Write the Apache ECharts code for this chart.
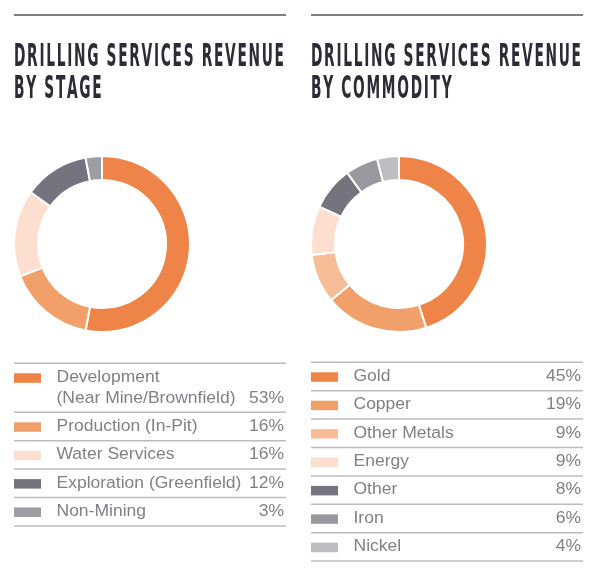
<!DOCTYPE html>
<html>
<head>
<meta charset="utf-8">
<script src="https://cdn.jsdelivr.net/npm/echarts@6/dist/echarts.min.js"></script>
<style>
  html, body { margin: 0; padding: 0; background: #fff; }
  #chart { width: 600px; height: 586px; }
</style>
</head>
<body>
<div id="chart"></div>
<script>
// data
const stageTitle = ['DRILLING SERVICES REVENUE', 'BY STAGE'];
const stageLabels = ['Development\n(Near Mine/Brownfield)', 'Production (In-Pit)', 'Water Services', 'Exploration (Greenfield)', 'Non-Mining'];
const stageValues = [53, 16, 16, 12, 3];
const stageColors = ['#ee8447', '#f2a06a', '#fddfcf', '#74747e', '#9d9da4'];

const commodityTitle = ['DRILLING SERVICES REVENUE', 'BY COMMODITY'];
const commodityLabels = ['Gold', 'Copper', 'Other Metals', 'Energy', 'Other', 'Iron', 'Nickel'];
const commodityValues = [45, 19, 9, 9, 8, 6, 4];
const commodityColors = ['#ee8447', '#f2a06a', '#f6bd97', '#fddfcf', '#74747e', '#98989f', '#bdbdc2'];

const titleFont = 'bold 31.5px "DejaVu Sans Condensed", "DejaVu Sans"';
const bodyFont = '16.3px "Liberation Sans", Arial, sans-serif';
const bodyScale = 1.075;
const textGray = '#808087';
const ruleGray = '#bcbcc0';
const titleGap = 1.7;

// measure title glyphs so the first line fills the panel width
const mctx = document.createElement('canvas').getContext('2d');
mctx.font = titleFont;
function charW(c) { return mctx.measureText(c).width; }

function titleElements(lines, x0, target) {
    const first = lines[0].split('');
    const natural = first.reduce((s, c) => s + charW(c), 0);
    const sx = (target - titleGap * (first.length - 1)) / natural;
    const els = [];
    lines.forEach((t, i) => {
        let x = x0;
        t.split('').forEach(c => {
            if (c !== ' ') {
                els.push({
                    type: 'text', x: x, y: 57.5 + i * 32.4, scaleX: sx,
                    style: { text: c, font: titleFont, fill: '#2c2c36', align: 'left', verticalAlign: 'middle' }
                });
            }
            x += charW(c) * sx + titleGap;
        });
    });
    return els;
}

function panel(x0, x1, titleLines, names, values, colors, tableTop) {
    const els = [];
    // top rule
    els.push({
        type: 'line', shape: { x1: x0, y1: 15, x2: x1, y2: 15 },
        style: { stroke: '#55555c', lineWidth: 1.5 }
    });
    els.push(...titleElements(titleLines, x0, x1 - 2 - x0));
    // table
    let y = tableTop;
    els.push({
        type: 'line', shape: { x1: x0, y1: y, x2: x1, y2: y },
        style: { stroke: ruleGray, lineWidth: 1.5 }
    });
    names.forEach((name, i) => {
        const lines = name.split('\n');
        const h = lines.length > 1 ? 49 : 28.4;
        const c0 = y + 14;
        els.push({
            type: 'rect', shape: { x: x0, y: c0 - 4, width: 27, height: 9.5 },
            style: { fill: colors[i] }
        });
        lines.forEach((ln, k) => {
            els.push({
                type: 'text', x: x0 + 42.5, y: c0 + k * 21.6, scaleX: bodyScale,
                style: { text: ln, font: bodyFont, fill: textGray, align: 'left', verticalAlign: 'middle' }
            });
        });
        els.push({
            type: 'text', x: x1 - 2, y: c0 + (lines.length - 1) * 21.6, scaleX: bodyScale,
            style: { text: values[i] + '%', font: bodyFont, fill: textGray, align: 'right', verticalAlign: 'middle' }
        });
        y += h;
        els.push({
            type: 'line', shape: { x1: x0, y1: y, x2: x1, y2: y },
            style: { stroke: ruleGray, lineWidth: 1.5 }
        });
    });
    return els;
}

function donut(cx, cy, names, values, colors) {
    return {
        type: 'pie',
        center: [cx, cy],
        radius: [64, 88],
        startAngle: 90,
        clockwise: true,
        silent: true,
        animation: false,
        label: { show: false },
        labelLine: { show: false },
        itemStyle: { borderColor: '#fff', borderWidth: 2 },
        data: names.map((n, i) => ({ name: n, value: values[i], itemStyle: { color: colors[i] } }))
    };
}

const chart = echarts.init(document.getElementById('chart'), null, { renderer: 'canvas' });
chart.setOption({
    backgroundColor: '#fff',
    animation: false,
    series: [
        donut(102, 244, stageLabels, stageValues, stageColors),
        donut(399, 244, commodityLabels, commodityValues, commodityColors)
    ],
    graphic: {
        elements: [
            ...panel(14, 286, stageTitle, stageLabels, stageValues, stageColors, 363.3),
            ...panel(311, 583, commodityTitle, commodityLabels, commodityValues, commodityColors, 362.3)
        ]
    }
});
</script>
</body>
</html>
